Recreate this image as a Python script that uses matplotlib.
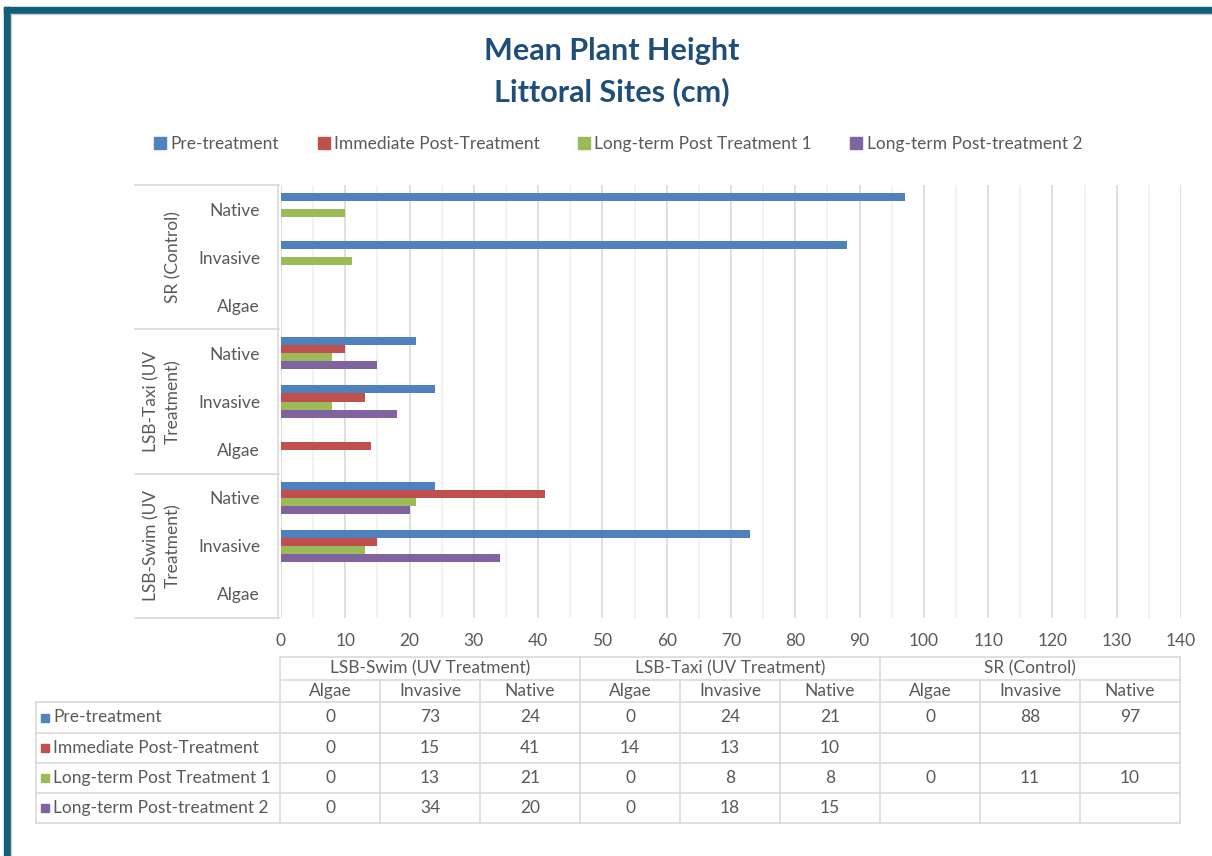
import numpy as np
import matplotlib.pyplot as plt
from matplotlib.lines import Line2D
from matplotlib.patches import Rectangle
from matplotlib.transforms import blended_transform_factory

plt.rcParams['font.family'] = ['Lato', 'DejaVu Sans']

# data, in table column order (bottom category first)
sites = ['LSB-Swim (UV Treatment)', 'LSB-Taxi (UV Treatment)', 'SR (Control)']
site_axis_labels = ['LSB-Swim (UV\nTreatment)', 'LSB-Taxi (UV\nTreatment)', 'SR (Control)']
plant_types = ['Algae', 'Invasive', 'Native']
series_names = ['Pre-treatment', 'Immediate Post-Treatment',
                'Long-term Post Treatment 1', 'Long-term Post-treatment 2']
pre_treatment = [0, 73, 24, 0, 24, 21, 0, 88, 97]
immediate_post = [0, 15, 41, 14, 13, 10, None, None, None]
long_term_1 = [0, 13, 21, 0, 8, 8, 0, 11, 10]
long_term_2 = [0, 34, 20, 0, 18, 15, None, None, None]
colors = ['#4F81BD', '#C0504D', '#9BBB59', '#8064A2']

series = [pre_treatment, immediate_post, long_term_1, long_term_2]

W, H = 1212, 856
fig = plt.figure(figsize=(W / 100, H / 100), dpi=100)


def fx(px):
    return px / W


def fy(py):
    return 1 - py / H


text_col = '#595959'
line_col = '#D9D9D9'
fs = 12.5

# frame
fig.patches.append(Rectangle((fx(4), fy(13)), fx(1212) - fx(4), fy(7) - fy(13),
                             transform=fig.transFigure, color='#135F78', zorder=0))
fig.patches.append(Rectangle((fx(4), fy(856)), fx(10) - fx(4), fy(7) - fy(856),
                             transform=fig.transFigure, color='#135F78', zorder=0))
fig.add_artist(Line2D([fx(11), fx(11)], [fy(14), fy(856)], color='#CFCFCF', lw=1))
fig.add_artist(Line2D([fx(11), fx(1212)], [fy(14), fy(14)], color='#CFCFCF', lw=1))

ax = fig.add_axes([fx(281), fy(618), fx(1181) - fx(281), fy(185) - fy(618)])

n = len(pre_treatment)
y = np.arange(n)
bh = 1 / 6
for i, (vals, c) in enumerate(zip(series, colors)):
    v = np.array([np.nan if x is None else x for x in vals], dtype=float)
    ax.barh(y + (1.5 - i) * bh, v, height=bh, color=c, zorder=3)

ax.set_xlim(0, 140)
ax.set_ylim(-0.5, n - 0.5)
ax.set_xticks(np.arange(0, 141, 10))
ax.set_xticks(np.arange(5, 140, 10), minor=True)
ax.grid(axis='x', which='major', color=line_col, lw=1.2, zorder=0)
ax.grid(axis='x', which='minor', color='#F0F0F0', lw=1.2, zorder=0)
ax.tick_params(axis='x', which='both', length=0, pad=11, labelsize=fs, labelcolor=text_col)
ax.set_yticks(y)
ax.set_yticklabels(plant_types * len(sites))
ax.tick_params(axis='y', length=0, pad=13, labelsize=fs, labelcolor=text_col)
for s in ['top', 'right', 'bottom']:
    ax.spines[s].set_visible(False)
ax.spines['left'].set_color(line_col)
ax.spines['left'].set_linewidth(1.2)
ax.spines['left'].set_position(('outward', 2))

# site group labels and separators
tr = blended_transform_factory(fig.transFigure, ax.transData)
for k, lab in enumerate(site_axis_labels):
    ax.text(fx(181), 3 * k + 1, lab, transform=tr, rotation=90, ha='right', va='center',
            multialignment='center', linespacing=1.45, fontsize=fs, color=text_col)
for b in np.arange(-0.5, n, 3):
    ax.add_line(Line2D([fx(135), fx(279)], [b, b], transform=tr, color=line_col,
                       lw=1.2, clip_on=False))

# title and legend
fig.text(0.505, fy(51), 'Mean Plant Height', ha='center', va='center',
         fontsize=22, fontweight='bold', color='#1F4E79')
fig.text(0.505, fy(92), 'Littoral Sites (cm)', ha='center', va='center',
         fontsize=22, fontweight='bold', color='#1F4E79')
handles = [Line2D([], [], marker='s', ls='none', color=c, markersize=8) for c in colors]
fig.legend(handles, series_names, loc='center', bbox_to_anchor=(fx(617), fy(144)),
           ncol=4, frameon=False, fontsize=fs, labelcolor=text_col,
           handletextpad=0.1, columnspacing=2.05, handlelength=1.0)

# data table
col_x = [280 + 100 * j for j in range(n + 1)]
row_y = [657, 680, 702, 733, 763, 793, 823]
tw = 1.2


def hline(x0, x1, yy):
    fig.add_artist(Line2D([fx(x0), fx(x1)], [fy(yy), fy(yy)], color=line_col, lw=tw))


def vline(xx, y0, y1):
    fig.add_artist(Line2D([fx(xx), fx(xx)], [fy(y0), fy(y1)], color=line_col, lw=tw))


hline(280, 1180, row_y[0])
hline(280, 1180, row_y[1])
for yy in row_y[2:]:
    hline(36, 1180, yy)
for k in range(len(sites) + 1):
    vline(col_x[3 * k], row_y[0], row_y[1])
for xx in col_x:
    vline(xx, row_y[1], row_y[-1])
vline(36, row_y[2], row_y[-1])

for k, s in enumerate(sites):
    fig.text(fx((col_x[3 * k] + col_x[3 * k + 3]) / 2), fy((row_y[0] + row_y[1]) / 2), s,
             ha='center', va='center', fontsize=fs, color=text_col)
for j in range(n):
    cx = fx((col_x[j] + col_x[j + 1]) / 2)
    fig.text(cx, fy((row_y[1] + row_y[2]) / 2), plant_types[j % 3],
             ha='center', va='center', fontsize=fs, color=text_col)
    for i, vals in enumerate(series):
        if vals[j] is not None:
            fig.text(cx, fy((row_y[i + 2] + row_y[i + 3]) / 2), str(vals[j]),
                     ha='center', va='center', fontsize=fs, color=text_col)
for i, (name, c) in enumerate(zip(series_names, colors)):
    yc = fy((row_y[i + 2] + row_y[i + 3]) / 2)
    fig.patches.append(Rectangle((fx(41), yc - 4 / H), 8 / W, 8 / H,
                                 transform=fig.transFigure, color=c))
    fig.text(fx(53), yc, name, ha='left', va='center', fontsize=fs, color=text_col)

fig.savefig('out.png', dpi=100, facecolor='white')
